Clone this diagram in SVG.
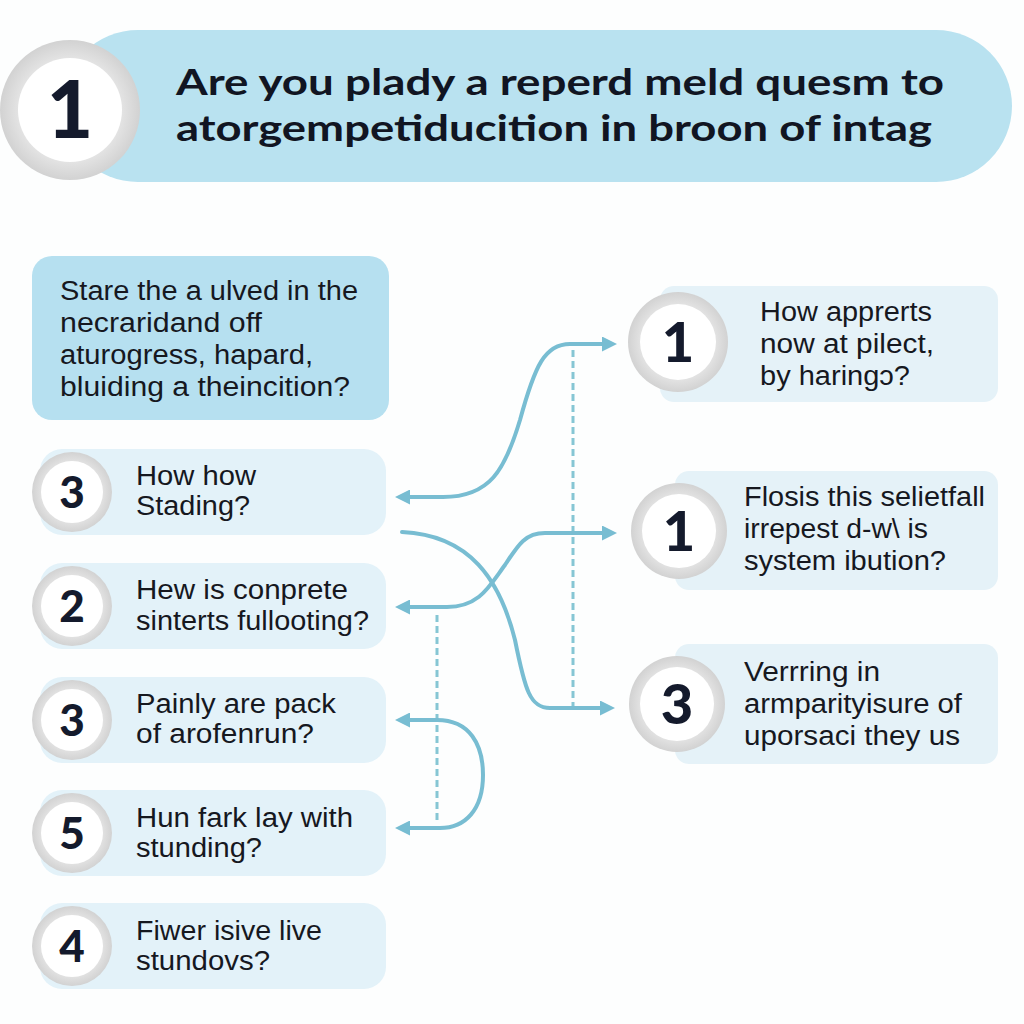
<svg xmlns="http://www.w3.org/2000/svg" width="1024" height="1024" viewBox="0 0 1024 1024">
<defs>
<radialGradient id="ring" cx="50%" cy="50%" r="50%">
<stop offset="70%" stop-color="#e6e6e6"/>
<stop offset="100%" stop-color="#d2d2d2"/>
</radialGradient>
<marker id="arr" viewBox="0 0 10 10" refX="2" refY="5" markerWidth="15" markerHeight="15" markerUnits="userSpaceOnUse" orient="auto-start-reverse">
<path d="M0,0 L10,5 L0,10 z" fill="#78bdd2"/>
</marker>
</defs>
<style>
.title{font-family:"Lato","Liberation Sans",sans-serif;font-weight:700;font-size:37px;fill:#111522}
.txt{font-family:"Liberation Sans","Arial",sans-serif;font-size:27px;fill:#16181f}
.num{font-family:"Lato","Liberation Sans",sans-serif;font-weight:900;fill:#141a2c;text-anchor:middle}
.ring{fill:url(#ring)}
.inner{fill:#ffffff}
.pillL{fill:#e3f2f9}
.pillR{fill:#e5f2f8}
.conn{fill:none;stroke:#78bdd2;stroke-width:4;stroke-linecap:round}
.dash{fill:none;stroke:#86c6d4;stroke-width:3;stroke-dasharray:7 4}
</style>
<rect width="1024" height="1024" fill="#fdfefe"/>

<g id="header">
<rect x="62" y="30" width="950" height="152" rx="76" fill="#b9e2f0"/>
<circle cx="70" cy="110" r="70" class="ring"/>
<circle cx="70" cy="110" r="52" class="inner"/>
<text x="70" y="138" class="num" font-size="80">1</text>
<text x="176" y="95" class="title" textLength="768" lengthAdjust="spacingAndGlyphs">Are you plady a reperd meld quesm to</text>
<text x="176" y="141" class="title" textLength="756" lengthAdjust="spacingAndGlyphs">atorgempetiducition in broon of intag</text>
</g>

<g id="intro">
<rect x="32" y="256" width="357" height="164" rx="20" fill="#b6e0f0"/>
<text class="txt" x="60" y="300" textLength="298" lengthAdjust="spacingAndGlyphs">Stare the a ulved in the</text>
<text class="txt" x="60" y="332" textLength="202" lengthAdjust="spacingAndGlyphs">necraridand off</text>
<text class="txt" x="60" y="364" textLength="253" lengthAdjust="spacingAndGlyphs">aturogress, hapard,</text>
<text class="txt" x="60" y="396" textLength="290" lengthAdjust="spacingAndGlyphs">bluiding a theincition?</text>
</g>

<g id="left1">
<rect x="40" y="449" width="346" height="86" rx="22" class="pillL"/>
<circle cx="72" cy="492" r="40" class="ring"/>
<circle cx="72" cy="492" r="31" class="inner"/>
<text x="72" y="508" class="num" font-size="44">3</text>
<text class="txt" x="136" y="485" textLength="120" lengthAdjust="spacingAndGlyphs">How how</text>
<text class="txt" x="136" y="515" textLength="114" lengthAdjust="spacingAndGlyphs">Stading?</text>
</g>

<g id="left2">
<rect x="40" y="563" width="346" height="86" rx="22" class="pillL"/>
<circle cx="72" cy="606" r="40" class="ring"/>
<circle cx="72" cy="606" r="31" class="inner"/>
<text x="72" y="622" class="num" font-size="44">2</text>
<text class="txt" x="136" y="599" textLength="212" lengthAdjust="spacingAndGlyphs">Hew is conprete</text>
<text class="txt" x="136" y="630" textLength="233" lengthAdjust="spacingAndGlyphs">sinterts fullooting?</text>
</g>

<g id="left3">
<rect x="40" y="677" width="346" height="86" rx="22" class="pillL"/>
<circle cx="72" cy="720" r="40" class="ring"/>
<circle cx="72" cy="720" r="31" class="inner"/>
<text x="72" y="736" class="num" font-size="44">3</text>
<text class="txt" x="136" y="713" textLength="200" lengthAdjust="spacingAndGlyphs">Painly are pack</text>
<text class="txt" x="136" y="743" textLength="178" lengthAdjust="spacingAndGlyphs">of arofenrun?</text>
</g>

<g id="left4">
<rect x="40" y="790" width="346" height="86" rx="22" class="pillL"/>
<circle cx="72" cy="833" r="40" class="ring"/>
<circle cx="72" cy="833" r="31" class="inner"/>
<text x="72" y="849" class="num" font-size="44">5</text>
<text class="txt" x="136" y="827" textLength="217" lengthAdjust="spacingAndGlyphs">Hun fark lay with</text>
<text class="txt" x="136" y="857" textLength="126" lengthAdjust="spacingAndGlyphs">stunding?</text>
</g>

<g id="left5">
<rect x="40" y="903" width="346" height="86" rx="22" class="pillL"/>
<circle cx="72" cy="946" r="40" class="ring"/>
<circle cx="72" cy="946" r="31" class="inner"/>
<text x="72" y="962" class="num" font-size="44">4</text>
<text class="txt" x="136" y="940" textLength="186" lengthAdjust="spacingAndGlyphs">Fiwer isive live</text>
<text class="txt" x="136" y="970" textLength="134" lengthAdjust="spacingAndGlyphs">stundovs?</text>
</g>

<g id="right1">
<rect x="660" y="286" width="338" height="116" rx="14" class="pillR"/>
<circle cx="678" cy="342" r="50" class="ring"/>
<circle cx="678" cy="342" r="38" class="inner"/>
<text x="678" y="362" class="num" font-size="56">1</text>
<text class="txt" x="760" y="321" textLength="172" lengthAdjust="spacingAndGlyphs">How apprerts</text>
<text class="txt" x="760" y="353" textLength="174" lengthAdjust="spacingAndGlyphs">now at pilect,</text>
<text class="txt" x="760" y="385" textLength="150" lengthAdjust="spacingAndGlyphs">by haringɔ?</text>
</g>

<g id="right2">
<rect x="675" y="471" width="323" height="119" rx="14" class="pillR"/>
<circle cx="679" cy="531" r="48" class="ring"/>
<circle cx="679" cy="531" r="37" class="inner"/>
<text x="679" y="551" class="num" font-size="56">1</text>
<text class="txt" x="744" y="506" textLength="241" lengthAdjust="spacingAndGlyphs">Flosis this selietfall</text>
<text class="txt" x="744" y="538" textLength="184" lengthAdjust="spacingAndGlyphs">irrepest d-w\ is</text>
<text class="txt" x="744" y="570" textLength="202" lengthAdjust="spacingAndGlyphs">system ibution?</text>
</g>

<g id="right3">
<rect x="675" y="644" width="323" height="120" rx="14" class="pillR"/>
<circle cx="677" cy="704" r="48" class="ring"/>
<circle cx="677" cy="704" r="37" class="inner"/>
<text x="677" y="724" class="num" font-size="56">3</text>
<text class="txt" x="744" y="681" textLength="136" lengthAdjust="spacingAndGlyphs">Verrring in</text>
<text class="txt" x="744" y="713" textLength="218" lengthAdjust="spacingAndGlyphs">armparityisure of</text>
<text class="txt" x="744" y="745" textLength="216" lengthAdjust="spacingAndGlyphs">uporsaci they us</text>
</g>

<g id="connectors">
<line class="dash" x1="573" y1="350" x2="573" y2="707"/>
<line class="dash" x1="437" y1="615" x2="437" y2="822"/>
<path class="conn" marker-start="url(#arr)" marker-end="url(#arr)" d="M407 497 H443 C490 497 505 470 520 420 C535 365 545 344 570 344 H605"/>
<path class="conn" marker-end="url(#arr)" d="M402 532 C470 535 500 580 515 640 C525 690 530 708 550 708 H603"/>
<path class="conn" marker-start="url(#arr)" marker-end="url(#arr)" d="M407 607 H447 C480 607 490 585 505 565 C518 545 525 533 545 533 H605"/>
<path class="conn" marker-start="url(#arr)" marker-end="url(#arr)" d="M407 720 H437 C470 720 483 745 483 775 C483 810 465 828 440 828 H407"/>
</g>
</svg>
